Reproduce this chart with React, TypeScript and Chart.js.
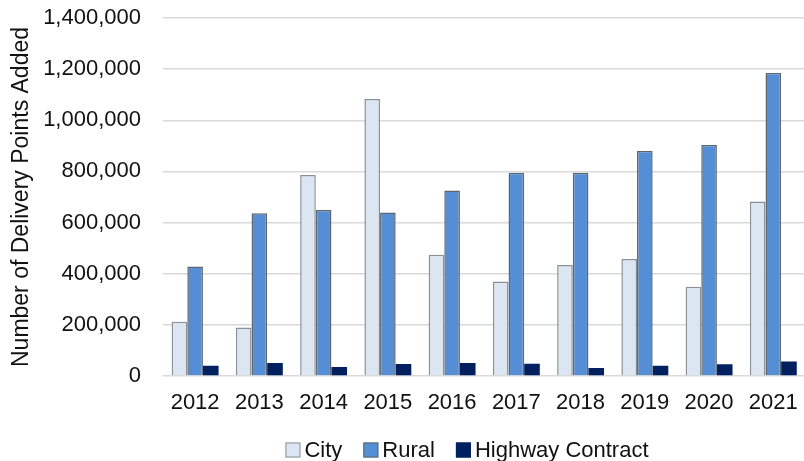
import React, { useEffect, useRef } from "react";
import { Chart, registerables } from "chart.js";

Chart.register(...registerables);

const years = ["2012", "2013", "2014", "2015", "2016", "2017", "2018", "2019", "2020", "2021"];
const cityValues = [212000, 190000, 786000, 1083000, 474000, 370000, 434000, 458000, 349000, 682000];
const ruralValues = [428000, 636000, 649000, 639000, 725000, 795000, 795000, 880000, 903000, 1185000];
const highwayValues = [40000, 51000, 35000, 47000, 51000, 48000, 31000, 40000, 46000, 57000];
const yMax = 1400000;
const yStep = 200000;

const FONT = "'Liberation Sans', Arial, sans-serif";
const TEXT = "#111";

const legendPlugin = {
  id: "customLegend",
  afterDraw(chart: any) {
    const ctx = chart.ctx;
    const ds = chart.data.datasets;
    const box = 15;
    const gapBoxText = 4;
    const gapItems = 21;
    ctx.save();
    ctx.font = `22px ${FONT}`;
    ctx.textBaseline = "middle";
    ctx.textAlign = "left";
    const widths = ds.map((d: any) => box + gapBoxText + ctx.measureText(d.label).width);
    const total = widths.reduce((a: number, b: number) => a + b, 0) + gapItems * (ds.length - 1);
    const centerX = 467;
    const cy = 451;
    let x = centerX - total / 2;
    ds.forEach((d: any, i: number) => {
      ctx.fillStyle = d.backgroundColor;
      ctx.fillRect(x, cy - box / 2 - 1, box, box);
      ctx.strokeStyle = d.legendBorder;
      ctx.lineWidth = 1;
      ctx.strokeRect(x + 0.5, cy - box / 2 - 0.5, box - 1, box - 1);
      ctx.fillStyle = TEXT;
      ctx.fillText(d.label, x + box + gapBoxText, cy);
      x += widths[i] + gapItems;
    });
    ctx.restore();
  },
};

export default function App() {
  const ref = useRef<HTMLCanvasElement | null>(null);
  useEffect(() => {
    if (!ref.current) return;
    const chart = new Chart(ref.current, {
      type: "bar",
      data: {
        labels: years,
        datasets: [
          {
            label: "City",
            data: cityValues,
            backgroundColor: "#dce6f2",
            borderColor: "#8a8f96",
            borderWidth: 1.5,
            legendBorder: "#8a8f96",
          } as any,
          {
            label: "Rural",
            data: ruralValues,
            backgroundColor: "#558ed5",
            borderColor: "#5b6670",
            borderWidth: 1.5,
            legendBorder: "#5b6670",
          } as any,
          {
            label: "Highway Contract",
            data: highwayValues,
            backgroundColor: "#002060",
            borderColor: "#002060",
            borderWidth: 0,
            legendBorder: "#002060",
          } as any,
        ],
      },
      plugins: [legendPlugin],
      options: {
        responsive: false,
        animation: false,
        devicePixelRatio: 1,
        datasets: { bar: { barPercentage: 1, categoryPercentage: 0.73 } },
        layout: { padding: { top: 0, right: 4, left: 0, bottom: 28 } },
        plugins: {
          tooltip: { enabled: false },
          legend: { display: false },
        },
        scales: {
          x: {
            grid: { display: false, drawTicks: false },
            border: { display: false },
            ticks: { font: { family: FONT, size: 22 }, color: TEXT, padding: 14 },
            afterFit: (s: any) => {
              s.height = 57;
            },
          },
          y: {
            min: 0,
            max: yMax,
            grid: { color: "#d9d9d9", lineWidth: 1.5, drawTicks: false },
            border: { display: false },
            ticks: {
              stepSize: yStep,
              font: { family: FONT, size: 22 },
              color: TEXT,
              padding: 22,
              callback: (v: any) => Number(v).toLocaleString("en-US"),
            },
            title: {
              display: true,
              text: "Number of Delivery Points Added",
              font: { family: FONT, size: 23 },
              color: TEXT,
              padding: { top: 8, bottom: 0 },
            },
            afterFit: (s: any) => {
              s.width = 163;
              s.paddingTop = 18;
              s.paddingBottom = 0;
            },
          },
        },
      },
    });
    return () => chart.destroy();
  }, []);
  return (
    <div style={{ position: "fixed", left: 0, top: 0, width: 804, height: 461, overflow: "hidden", background: "#fff" }}>
      <canvas ref={ref} width={812} height={461} style={{ display: "block" }} />
    </div>
  );
}
